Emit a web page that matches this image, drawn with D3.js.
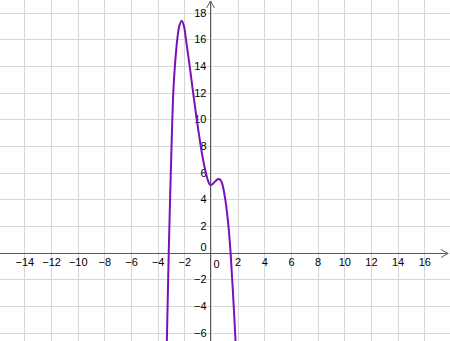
<!DOCTYPE html>
<html>
<head>
<meta charset="utf-8">
<script src="https://cdn.jsdelivr.net/npm/d3@7"></script>
<style>
  html, body { margin: 0; padding: 0; background: #ffffff; }
  svg { display: block; font-family: "Liberation Sans", Arial, sans-serif; }
</style>
</head>
<body>
<svg id="graph"></svg>
<script>
// Tick labels on both axes
const xTicks = [-14, -12, -10, -8, -6, -4, -2, 0, 2, 4, 6, 8, 10, 12, 14, 16];
const yTicks = [-6, -4, -2, 0, 2, 4, 6, 8, 10, 12, 14, 16, 18];

// Points
const curveX = [-3.32, -3.17, -3.07, -2.96, -2.83, -2.71, -2.53, -2.38, -2.2, -2.03, -1.88, -1.6, -1.34, -1.07, -0.77, -0.6, -0.4, -0.27, -0.15, -0.05, 0.08, 0.3, 0.55, 0.7, 0.85, 1.07, 1.31, 1.47, 1.65, 1.86];
const curveY = [-7, 0, 4, 8, 12, 14, 16, 17, 17.4, 17, 16, 14, 12, 10, 8, 7, 6.05, 5.55, 5.22, 5.08, 5.12, 5.35, 5.53, 5.48, 5.15, 4, 2, 0, -3, -7];

// Visible window
const xMin = -15.83, xMax = 17.93;
const yMin = -6.62, yMax = 18.96;

let width = 450, height = 341;

let svg = d3.select('#graph')
    .attr('width', width)
    .attr('height', height);

let xScale = d3.scaleLinear().domain([xMin, xMax]).range([0, width]);
let yScale = d3.scaleLinear().domain([yMin, yMax]).range([height, 0]);

const fmt = (v) => v < 0 ? '\u2212' + Math.abs(v) : String(v);

// Grid
svg.append('g')
    .selectAll('line')
    .data(xTicks)
    .enter()
    .append('line')
    .attr('x1', d => Math.round(xScale(d)) + 0.5)
    .attr('x2', d => Math.round(xScale(d)) + 0.5)
    .attr('y1', 0)
    .attr('y2', height)
    .attr('stroke', '#d6d6d6');

svg.append('g')
    .selectAll('line')
    .data(yTicks)
    .enter()
    .append('line')
    .attr('y1', d => Math.round(yScale(d)) + 0.5)
    .attr('y2', d => Math.round(yScale(d)) + 0.5)
    .attr('x1', 0)
    .attr('x2', width)
    .attr('stroke', '#d6d6d6');

let x0 = Math.round(xScale(0)) - 0.5;
let y0 = Math.round(yScale(0)) + 0.5;

// Axes lines with arrows
let axisColor = '#5a5a5a';
svg.append('line')
    .attr('x1', 0).attr('x2', width - 2)
    .attr('y1', y0).attr('y2', y0)
    .attr('stroke', axisColor);
svg.append('path')
    .attr('d', `M${width - 9},${y0 - 4} L${width - 2},${y0} L${width - 9},${y0 + 4}`)
    .attr('fill', 'none')
    .attr('stroke', axisColor);

svg.append('line')
    .attr('x1', x0).attr('x2', x0)
    .attr('y1', 1).attr('y2', height)
    .attr('stroke', axisColor);
svg.append('path')
    .attr('d', `M${x0 - 4},${8} L${x0},${1} L${x0 + 4},${8}`)
    .attr('fill', 'none')
    .attr('stroke', axisColor);

// X tick labels
let xAxis = d3.axisBottom(xScale)
    .tickValues(xTicks.filter(d => d !== 0))
    .tickFormat(fmt)
    .tickSize(0)
    .tickPadding(5);
let gx = svg.append('g')
    .attr('transform', `translate(0, ${y0})`)
    .call(xAxis);
gx.select('.domain').remove();
gx.selectAll('text')
    .attr('font-size', 11)
    .attr('font-family', '"Liberation Sans", Arial, sans-serif')
    .attr('fill', '#000');

svg.append('text')
    .attr('x', x0 + 3)
    .attr('y', y0 + 14)
    .attr('font-size', 11)
    .text('0');

// Y tick labels
let yAxis = d3.axisLeft(yScale)
    .tickValues(yTicks.filter(d => d !== 0))
    .tickFormat(fmt)
    .tickSize(0)
    .tickPadding(4);
let gy = svg.append('g')
    .attr('transform', `translate(${x0}, 0)`)
    .call(yAxis);
gy.select('.domain').remove();
gy.selectAll('text')
    .attr('font-size', 11)
    .attr('font-family', '"Liberation Sans", Arial, sans-serif')
    .attr('fill', '#000');

svg.append('text')
    .attr('x', x0 - 4)
    .attr('y', y0 - 3)
    .attr('text-anchor', 'end')
    .attr('font-size', 11)
    .text('0');

// Curve
let points = curveX.map((d, i) => [d, curveY[i]]);
let line = d3.line()
    .x(d => xScale(d[0]))
    .y(d => yScale(d[1]))
    .curve(d3.curveCatmullRom.alpha(0.5));

svg.append('path')
    .datum(points)
    .attr('d', line)
    .attr('fill', 'none')
    .attr('stroke', '#7a10b8')
    .attr('stroke-width', 2);
</script>
</body>
</html>
